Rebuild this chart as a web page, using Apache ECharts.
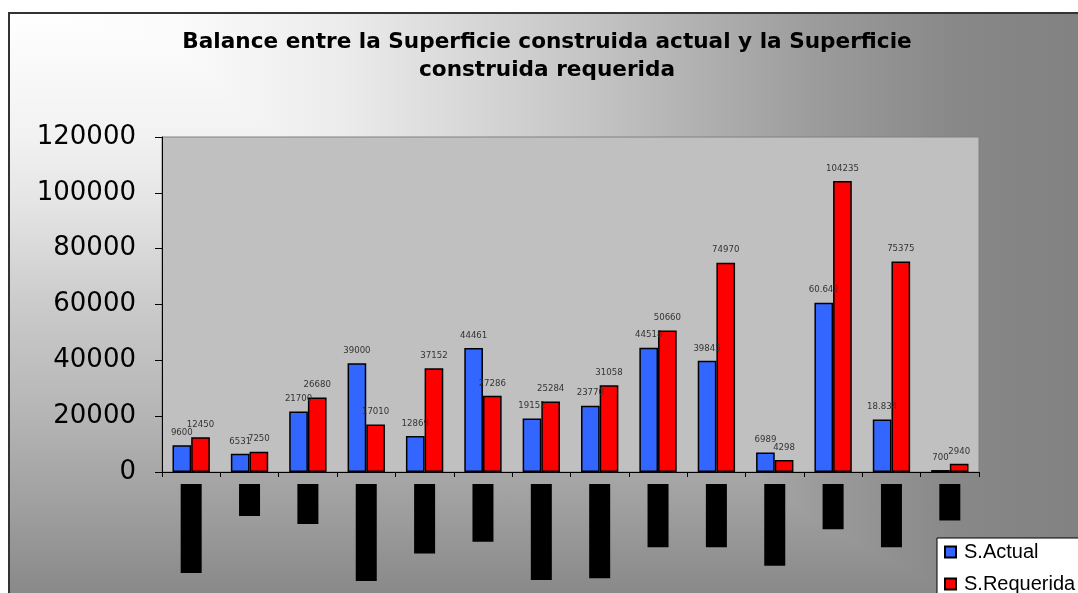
<!DOCTYPE html>
<html>
<head>
<meta charset="utf-8">
<script src="https://cdn.jsdelivr.net/npm/echarts@6/dist/echarts.min.js"></script>
<style>
  html, body { margin: 0; padding: 0; background: #fff; }
  #marco {
    position: absolute; left: 8px; top: 12px; width: 1100px; height: 600px;
    border-top: 2px solid #333; border-left: 2px solid #333;
    /* degradado "desde esquina": el mas oscuro de los dos gana */
    background:
      linear-gradient(to right, #ffffff 0%, #fbfbfb 15%, #ececec 30%, #c4c4c4 53%, #9c9c9c 73%, #888888 86%, #808080 100%),
      linear-gradient(to bottom, #ffffff 0%, #f2f2f2 20%, #e4e4e4 32%, #cacaca 49%, #b6b6b6 66%, #9e9e9e 83%, #888888 97%);
    background-blend-mode: darken;
  }
  #grafico { position: absolute; left: 0; top: 0; width: 1078px; height: 593px; }
</style>
</head>
<body>
<div id="marco"></div>
<div id="grafico"></div>
<script>
// categorias (las etiquetas originales aparecen tapadas en negro)
var categorias = ['Laboratorios', 'Sala', 'Aulas', 'Salas de aula', 'Biblioteca', 'Oficinas', 'Sala multiuso',
                  'Salas de arte', 'Auditorio', 'Bodegas', 'Dormitorios', 'Baños', 'Canchas', 'Patio'];
var sActual = [9600, 6531, 21700, 39000, 12869, 44461, 19152, 23770, 44518, 39845, 6989, 60642, 18834, 700];
var sRequerida = [12450, 7250, 26680, 17010, 37152, 27286, 25284, 31058, 50660, 74970, 4298, 104235, 75375, 2940];
var etiquetasActual = ['9600', '6531', '21700', '39000', '12869', '44461', '19152', '23770', '44518', '39845',
                       '6989', '60.642', '18.834', '700'];
var ejeY = { min: 0, max: 120000, intervalo: 20000 };

var myChart = echarts.init(document.getElementById('grafico'));

var etiquetaBarra = {
    show: true,
    position: 'top',
    distance: 8,
    color: '#333',
    fontFamily: 'DejaVu Sans',
    fontSize: 8.6
};

myChart.setOption({
    animation: false,
    backgroundColor: 'transparent',
    color: ['#3366ff', '#ff0000'],
    title: {
        text: 'Balance entre la Superficie construida actual y la Superficie\nconstruida requerida',
        left: 547,
        textAlign: 'center',
        top: 28,
        padding: 0,
        textStyle: {
            fontFamily: 'DejaVu Sans',
            fontWeight: 'bold',
            fontSize: 21.6,
            lineHeight: 28,
            color: '#000'
        }
    },
    legend: {
        orient: 'vertical',
        left: 937,
        top: 538,
        width: 160,
        height: 80,
        padding: [4, 40, 0, 7],
        backgroundColor: '#fff',
        borderColor: '#000',
        borderWidth: 1,
        borderRadius: 0,
        icon: 'rect',
        itemWidth: 11,
        itemHeight: 11,
        itemGap: 12,
        textStyle: {
            fontFamily: 'Liberation Sans',
            fontSize: 20,
            lineHeight: 18,
            color: '#000',
            padding: [0, 0, 0, 3]
        },
        data: ['S.Actual', 'S.Requerida']
    },
    grid: {
        left: 162,
        right: 99,
        top: 137,
        bottom: 121,
        show: true,
        backgroundColor: '#c0c0c0',
        borderColor: '#808080',
        borderWidth: 1
    },
    xAxis: {
        type: 'category',
        data: categorias,
        axisLine: { lineStyle: { color: '#000', width: 1 } },
        axisTick: { show: true, length: 5, lineStyle: { color: '#000' } },
        axisLabel: {
            interval: 0,
            rotate: 90,
            margin: 12,
            color: '#000',
            backgroundColor: '#000',
            fontFamily: 'Liberation Sans',
            fontSize: 16,
            lineHeight: 21,
            padding: 0
        },
        splitLine: { show: false }
    },
    yAxis: {
        type: 'value',
        min: ejeY.min,
        max: ejeY.max,
        interval: ejeY.intervalo,
        axisLine: { show: true, lineStyle: { color: '#000', width: 1 } },
        axisTick: { show: true, length: 7, lineStyle: { color: '#000' } },
        axisLabel: {
            margin: 26,
            color: '#000',
            fontFamily: 'DejaVu Sans',
            fontSize: 26,
            formatter: function (v) { return String(v); }
        },
        splitLine: { show: false }
    },
    series: [
        {
            name: 'S.Actual',
            type: 'bar',
            barGap: '0%',
            barCategoryGap: '36%',
            data: sActual,
            itemStyle: { color: '#3366ff', borderColor: '#000', borderWidth: 1.5 },
            label: Object.assign({}, etiquetaBarra, {
                formatter: function (p) { return etiquetasActual[p.dataIndex]; }
            })
        },
        {
            name: 'S.Requerida',
            type: 'bar',
            barGap: '0%',
            barCategoryGap: '36%',
            data: sRequerida,
            itemStyle: { color: '#ff0000', borderColor: '#000', borderWidth: 1.5 },
            label: etiquetaBarra
        }
    ]
});
</script>
</body>
</html>
